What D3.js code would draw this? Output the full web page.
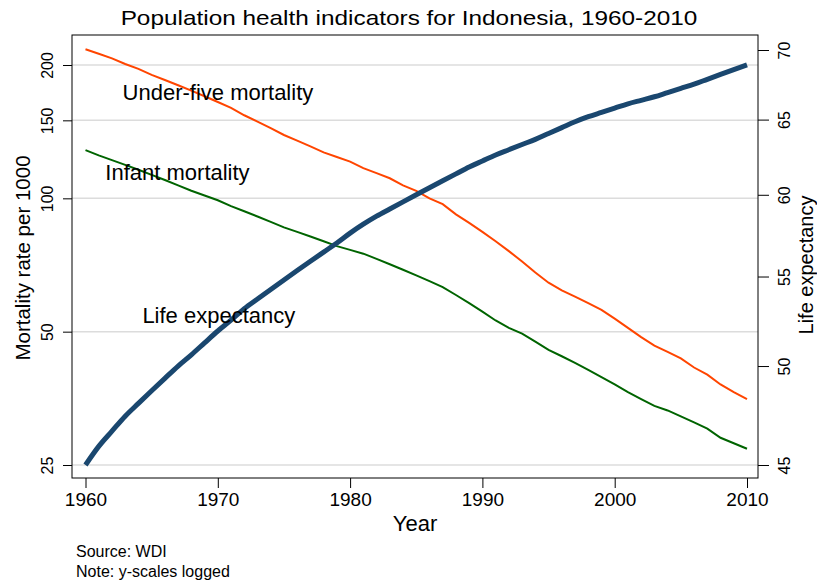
<!DOCTYPE html>
<html>
<head>
<meta charset="utf-8">
<script src="https://cdn.jsdelivr.net/npm/d3@7"></script>
<style>
  body { margin: 0; background: #fff; }
  text { font-family: "Liberation Sans", Arial, sans-serif; fill: #000; }
</style>
</head>
<body>
<div id="chart-area"></div>
<script>
// data
const years = d3.range(1960, 2011)

const underFive = [217, 212, 207, 201, 196, 190, 185, 180, 175, 170,
  165, 160, 154, 149, 144, 139, 135, 131, 127, 124,
  121, 117, 114, 111, 107, 104, 100, 97, 92, 88,
  84, 80, 76, 72, 68, 64.5, 62, 60, 58, 56,
  53.5, 51, 48.6, 46.5, 45, 43.5, 41.5, 40, 38, 36.5, 35.2]

const infant = [128.5, 125, 122, 119, 116, 113, 110, 107, 104, 101.5,
  99, 96, 93.5, 91, 88.5, 86, 84, 82, 80, 78,
  76.5, 75, 73, 71, 69, 67, 65, 63, 60.5, 58,
  55.5, 53, 51, 49.5, 47.5, 45.5, 44, 42.5, 41, 39.5,
  38, 36.5, 35.2, 34, 33.2, 32.2, 31.2, 30.2, 28.8, 28, 27.2]

const lifeExp = [45.0, 45.9, 46.65, 47.4, 48.05, 48.7, 49.35, 50.0, 50.6, 51.25,
  51.9, 52.5, 53.15, 53.7, 54.25, 54.8, 55.35, 55.9, 56.45, 57.0,
  57.6, 58.15, 58.65, 59.1, 59.55, 60.0, 60.45, 60.9, 61.35, 61.8,
  62.2, 62.6, 62.95, 63.3, 63.65, 64.05, 64.45, 64.85, 65.2, 65.5,
  65.8, 66.1, 66.35, 66.6, 66.9, 67.2, 67.5, 67.85, 68.2, 68.55, 68.9]

const xTicks = [1960, 1970, 1980, 1990, 2000, 2010]
const leftTicks = [25, 50, 100, 150, 200]
const rightTicks = [45, 50, 55, 60, 65, 70]

const W = 817, H = 581
const BOX = { LEFT: 72, RIGHT: 758, TOP: 35, BOTTOM: 478 }

const svg = d3.select("#chart-area").append("svg")
  .attr("width", W)
  .attr("height", H)

const x = d3.scaleLinear().domain([1960, 2010]).range([85.5, 747])
const yL = d3.scaleLog().domain([25, 200]).range([465, 65])
const yR = d3.scaleLog().domain([45, 70]).range([465, 50])

// gridlines (left axis only)
svg.append("g")
  .selectAll("line")
  .data(leftTicks)
  .enter().append("line")
    .attr("x1", BOX.LEFT)
    .attr("x2", BOX.RIGHT)
    .attr("y1", d => yL(d))
    .attr("y2", d => yL(d))
    .attr("stroke", "#dcdcdc")
    .attr("stroke-width", 1.5)

// plot box
svg.append("rect")
  .attr("x", BOX.LEFT)
  .attr("y", BOX.TOP)
  .attr("width", BOX.RIGHT - BOX.LEFT)
  .attr("height", BOX.BOTTOM - BOX.TOP)
  .attr("fill", "none")
  .attr("stroke", "#000")
  .attr("stroke-width", 1)

// axes
const xAxis = svg.append("g")
  .attr("transform", `translate(0, ${BOX.BOTTOM})`)
  .call(d3.axisBottom(x).tickValues(xTicks).tickFormat(d3.format("d")).tickSize(10).tickSizeOuter(0))
xAxis.selectAll("text")
  .attr("y", 15)
  .attr("font-size", "19px")

const leftAxis = svg.append("g")
  .attr("transform", `translate(${BOX.LEFT}, 0)`)
  .call(d3.axisLeft(yL).tickValues(leftTicks).tickFormat(d3.format("d")).tickSize(9).tickSizeOuter(0))
leftAxis.selectAll("text")
  .attr("x", null).attr("dy", null)
  .attr("text-anchor", "middle")
  .attr("font-size", "16px")
  .attr("transform", "translate(-19, 0) rotate(-90)")

const rightAxis = svg.append("g")
  .attr("transform", `translate(${BOX.RIGHT}, 0)`)
  .call(d3.axisRight(yR).tickValues(rightTicks).tickFormat(d3.format("d")).tickSize(11).tickSizeOuter(0))
rightAxis.selectAll("text")
  .attr("x", null).attr("dy", null)
  .attr("text-anchor", "middle")
  .attr("font-size", "16px")
  .attr("transform", "translate(32, 0) rotate(-90)")

svg.selectAll(".domain").remove()
svg.selectAll(".tick line").attr("stroke", "#000")

// series
const lineL = d3.line()
  .x((d, i) => x(years[i]))
  .y(d => yL(d))
const lineR = d3.line()
  .x((d, i) => x(years[i]))
  .y(d => yR(d))
  .curve(d3.curveMonotoneX)

svg.append("path")
  .attr("d", lineL(underFive))
  .attr("fill", "none")
  .attr("stroke", "#ff4500")
  .attr("stroke-width", 2)

svg.append("path")
  .attr("d", lineL(infant))
  .attr("fill", "none")
  .attr("stroke", "#006400")
  .attr("stroke-width", 2)

svg.append("path")
  .attr("d", lineR(lifeExp))
  .attr("fill", "none")
  .attr("stroke", "#1a476f")
  .attr("stroke-width", 5)

// in-plot labels
const labels = [
  { text: "Under-five mortality", year: 1962.8, v: yL.invert(100) },
  { text: "Infant mortality", year: 1961.5, v: yL.invert(180) },
  { text: "Life expectancy", year: 1964.3, v: yL.invert(323) }
]
svg.selectAll(".lbl")
  .data(labels)
  .enter().append("text")
    .attr("class", "lbl")
    .attr("x", d => x(d.year))
    .attr("y", d => yL(d.v))
    .attr("font-size", "22px")
    .text(d => d.text)

// titles
svg.append("text")
  .attr("transform", "translate(409, 25) scale(1.16, 1)")
  .attr("text-anchor", "middle")
  .attr("font-size", "21px")
  .text("Population health indicators for Indonesia, 1960-2010")

svg.append("text")
  .attr("x", 415)
  .attr("y", 531)
  .attr("text-anchor", "middle")
  .attr("font-size", "22px")
  .text("Year")

svg.append("text")
  .attr("transform", `translate(30, 258) rotate(-90)`)
  .attr("text-anchor", "middle")
  .attr("font-size", "20.5px")
  .text("Mortality rate per 1000")

svg.append("text")
  .attr("transform", `translate(813, 265) rotate(-90)`)
  .attr("text-anchor", "middle")
  .attr("font-size", "20px")
  .text("Life expectancy")

svg.append("text")
  .attr("x", 76)
  .attr("y", 557)
  .attr("font-size", "16px")
  .text("Source: WDI")

svg.append("text")
  .attr("x", 76)
  .attr("y", 577)
  .attr("font-size", "16px")
  .text("Note: y-scales logged")
</script>
</body>
</html>
